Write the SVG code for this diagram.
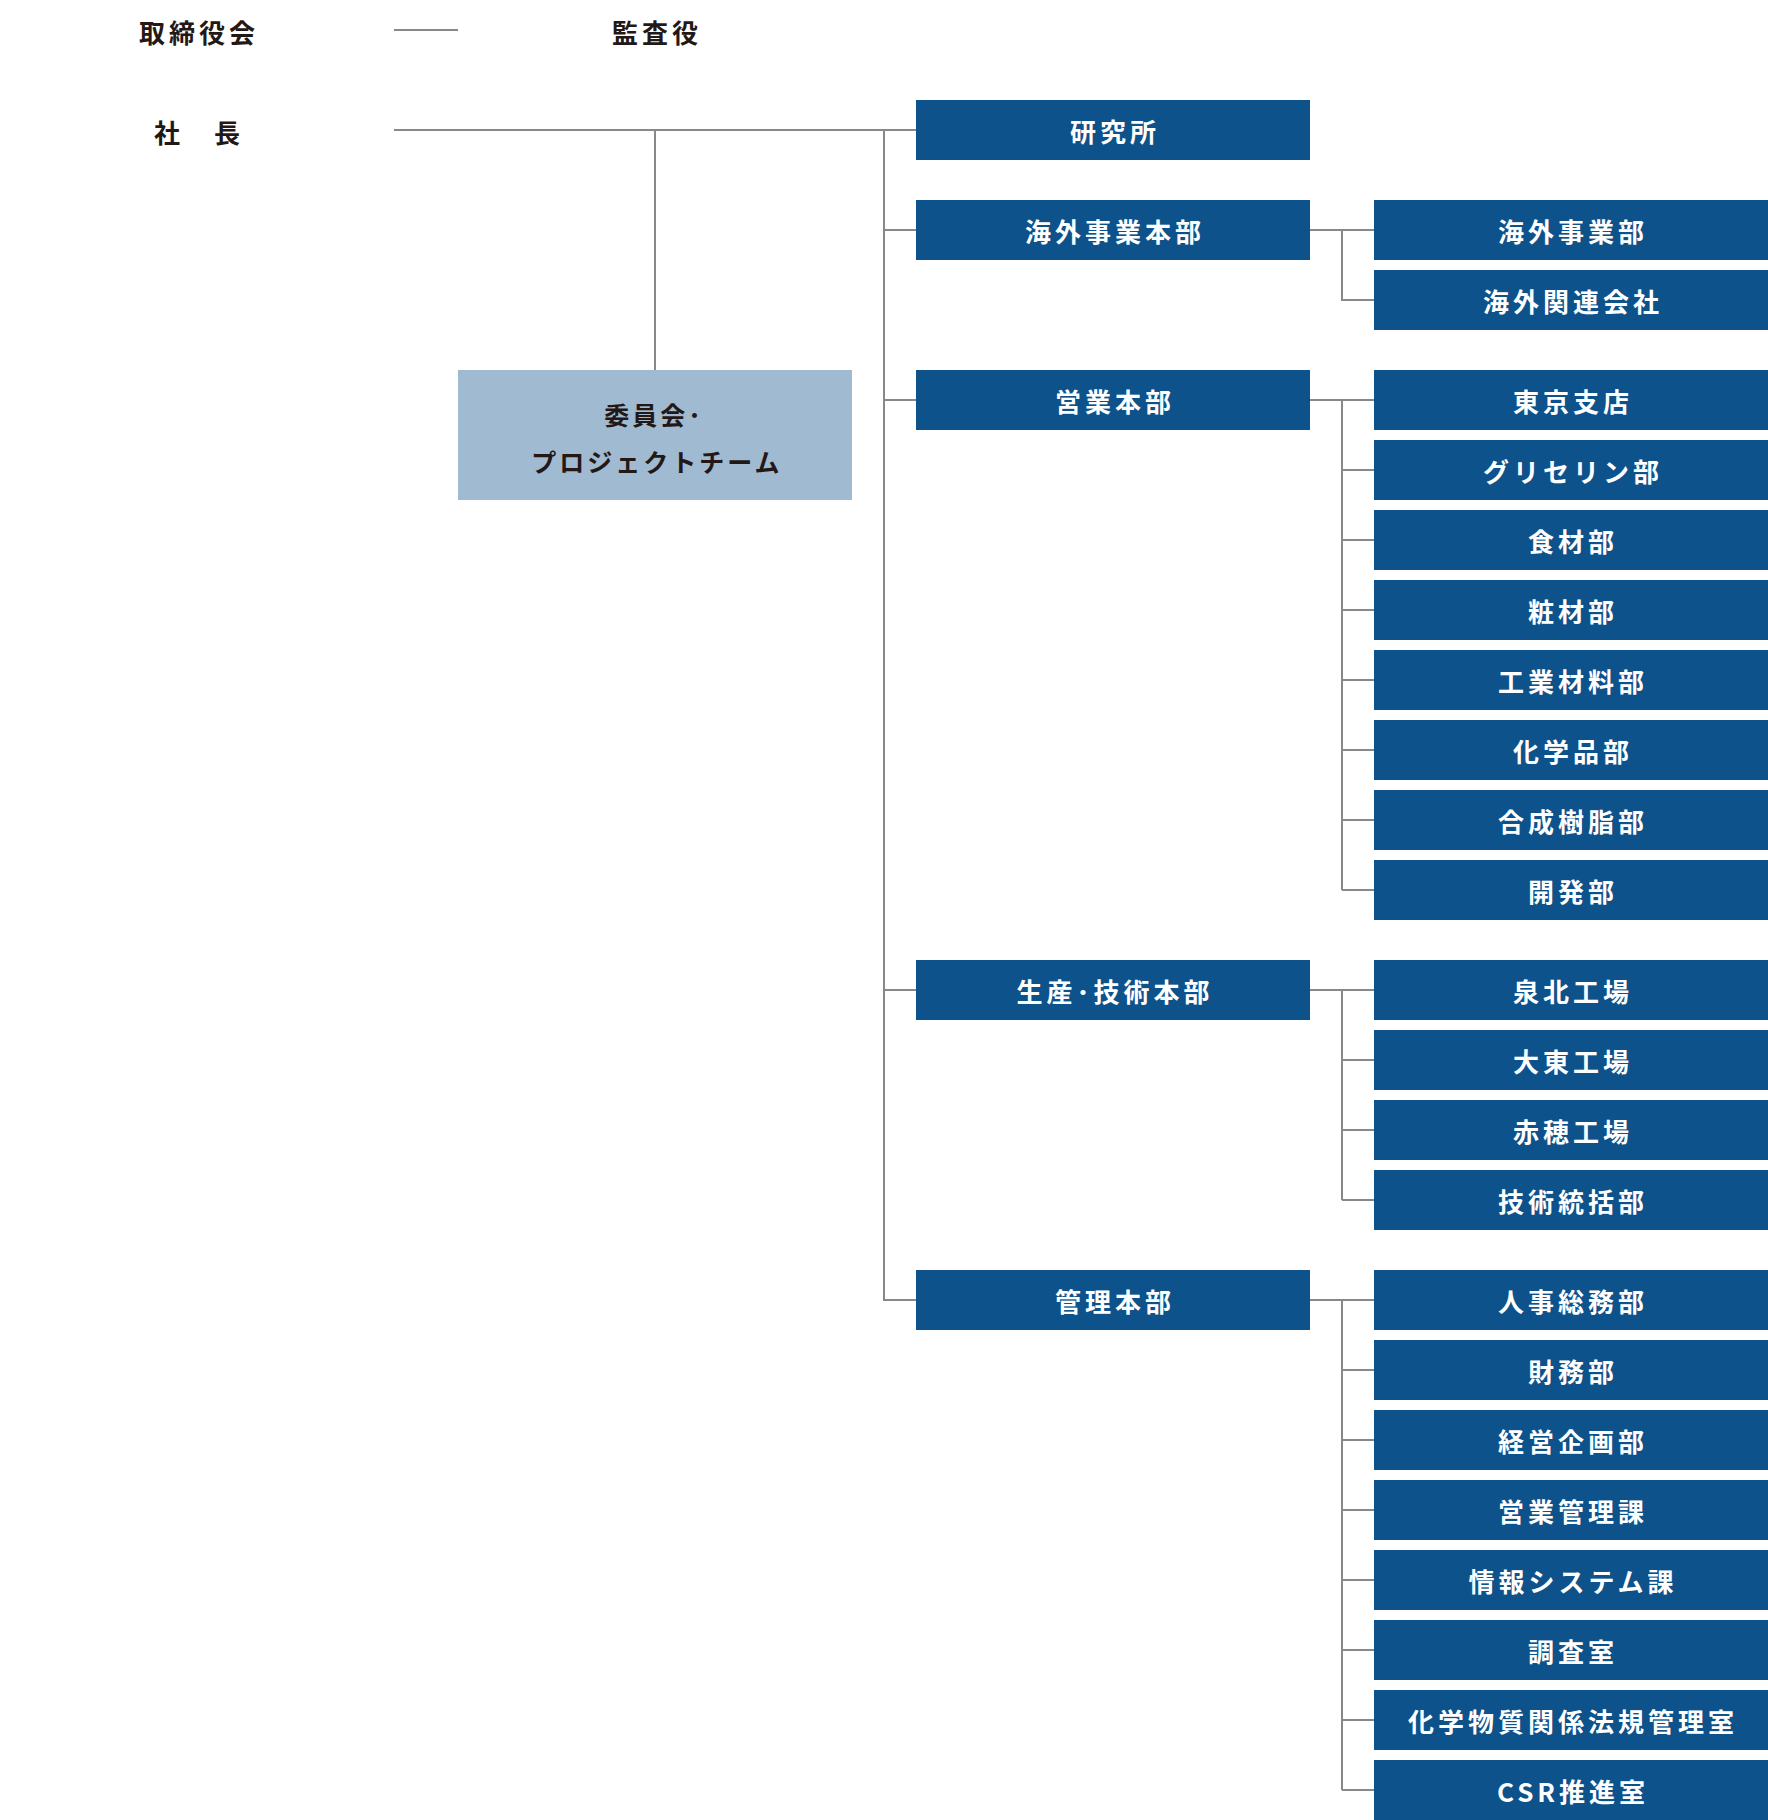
<svg xmlns="http://www.w3.org/2000/svg" width="1768" height="1820" viewBox="0 0 1768 1820">
<style>
.bx{fill:#0d528b}
.cm{fill:#9fbad1}
.bt{font-family:"Noto Sans CJK JP","Noto Sans",sans-serif;font-weight:700;font-size:26px;fill:#fff;text-anchor:middle;letter-spacing:4px}
.lt{font-family:"Noto Sans CJK JP","Noto Sans",sans-serif;font-weight:700;font-size:26px;fill:#231815;text-anchor:middle;letter-spacing:4px}
.ct{font-family:"Noto Sans CJK JP","Noto Sans",sans-serif;font-weight:700;font-size:25px;fill:#231815;text-anchor:middle;letter-spacing:3px}
.ln{fill:none;stroke:#888;stroke-width:2}
</style>
<rect width="1768" height="1820" fill="#fff"/>
<g id="connectors" class="ln">
<path d="M394 30H458"/>
<path d="M394 130H916"/>
<path d="M655 130V370"/>
<path d="M884 130V1300H916M884 230H916M884 400H916M884 990H916"/>
<path d="M1310 230H1374M1342 230V300H1374"/>
<path d="M1310 400H1374M1342 400V890M1342 470H1374M1342 540H1374M1342 610H1374M1342 680H1374M1342 750H1374M1342 820H1374M1342 890H1374"/>
<path d="M1310 990H1374M1342 990V1200M1342 1060H1374M1342 1130H1374M1342 1200H1374"/>
<path d="M1310 1300H1374M1342 1300V1790M1342 1370H1374M1342 1440H1374M1342 1510H1374M1342 1580H1374M1342 1650H1374M1342 1720H1374M1342 1790H1374"/>
</g>
<g id="board"><text class="lt" x="199" y="43">取締役会</text></g>
<g id="auditor"><text class="lt" x="657" y="43">監査役</text></g>
<g id="president"><text class="lt" x="199" y="143">社　長</text></g>
<g id="committee"><rect class="cm" x="458" y="370" width="394" height="130"/><text class="ct" x="654" y="425" letter-spacing="4">委員会･</text><text class="ct" x="657" y="472">プロジェクトチーム</text></g>
<g id="lab"><rect class="bx" x="916" y="100" width="394" height="60"/><text class="bt" x="1115" y="142">研究所</text></g>
<g id="overseas-hq"><rect class="bx" x="916" y="200" width="394" height="60"/><text class="bt" x="1115" y="242">海外事業本部</text></g>
<g id="sales-hq"><rect class="bx" x="916" y="370" width="394" height="60"/><text class="bt" x="1115" y="412">営業本部</text></g>
<g id="prod-hq"><rect class="bx" x="916" y="960" width="394" height="60"/><text class="bt" x="1115" y="1002">生産･技術本部</text></g>
<g id="admin-hq"><rect class="bx" x="916" y="1270" width="394" height="60"/><text class="bt" x="1115" y="1312">管理本部</text></g>
<g id="overseas-dept"><rect class="bx" x="1374" y="200" width="394" height="60"/><text class="bt" x="1573" y="242">海外事業部</text></g>
<g id="overseas-aff"><rect class="bx" x="1374" y="270" width="394" height="60"/><text class="bt" x="1573" y="312">海外関連会社</text></g>
<g id="tokyo"><rect class="bx" x="1374" y="370" width="394" height="60"/><text class="bt" x="1573" y="412">東京支店</text></g>
<g id="glycerin"><rect class="bx" x="1374" y="440" width="394" height="60"/><text class="bt" x="1573" y="482">グリセリン部</text></g>
<g id="food"><rect class="bx" x="1374" y="510" width="394" height="60"/><text class="bt" x="1573" y="552">食材部</text></g>
<g id="cosme"><rect class="bx" x="1374" y="580" width="394" height="60"/><text class="bt" x="1573" y="622">粧材部</text></g>
<g id="industrial"><rect class="bx" x="1374" y="650" width="394" height="60"/><text class="bt" x="1573" y="692">工業材料部</text></g>
<g id="chemical"><rect class="bx" x="1374" y="720" width="394" height="60"/><text class="bt" x="1573" y="762">化学品部</text></g>
<g id="resin"><rect class="bx" x="1374" y="790" width="394" height="60"/><text class="bt" x="1573" y="832">合成樹脂部</text></g>
<g id="dev"><rect class="bx" x="1374" y="860" width="394" height="60"/><text class="bt" x="1573" y="902">開発部</text></g>
<g id="senboku"><rect class="bx" x="1374" y="960" width="394" height="60"/><text class="bt" x="1573" y="1002">泉北工場</text></g>
<g id="daito"><rect class="bx" x="1374" y="1030" width="394" height="60"/><text class="bt" x="1573" y="1072">大東工場</text></g>
<g id="ako"><rect class="bx" x="1374" y="1100" width="394" height="60"/><text class="bt" x="1573" y="1142">赤穂工場</text></g>
<g id="tech"><rect class="bx" x="1374" y="1170" width="394" height="60"/><text class="bt" x="1573" y="1212">技術統括部</text></g>
<g id="hr"><rect class="bx" x="1374" y="1270" width="394" height="60"/><text class="bt" x="1573" y="1312">人事総務部</text></g>
<g id="finance"><rect class="bx" x="1374" y="1340" width="394" height="60"/><text class="bt" x="1573" y="1382">財務部</text></g>
<g id="planning"><rect class="bx" x="1374" y="1410" width="394" height="60"/><text class="bt" x="1573" y="1452">経営企画部</text></g>
<g id="salesmgmt"><rect class="bx" x="1374" y="1480" width="394" height="60"/><text class="bt" x="1573" y="1522">営業管理課</text></g>
<g id="infosys"><rect class="bx" x="1374" y="1550" width="394" height="60"/><text class="bt" x="1573" y="1592">情報システム課</text></g>
<g id="research"><rect class="bx" x="1374" y="1620" width="394" height="60"/><text class="bt" x="1573" y="1662">調査室</text></g>
<g id="chemreg"><rect class="bx" x="1374" y="1690" width="394" height="60"/><text class="bt" x="1573" y="1732">化学物質関係法規管理室</text></g>
<g id="csr"><rect class="bx" x="1374" y="1760" width="394" height="60"/><text class="bt" x="1573" y="1802" letter-spacing="5">CSR推進室</text></g>
</svg>
